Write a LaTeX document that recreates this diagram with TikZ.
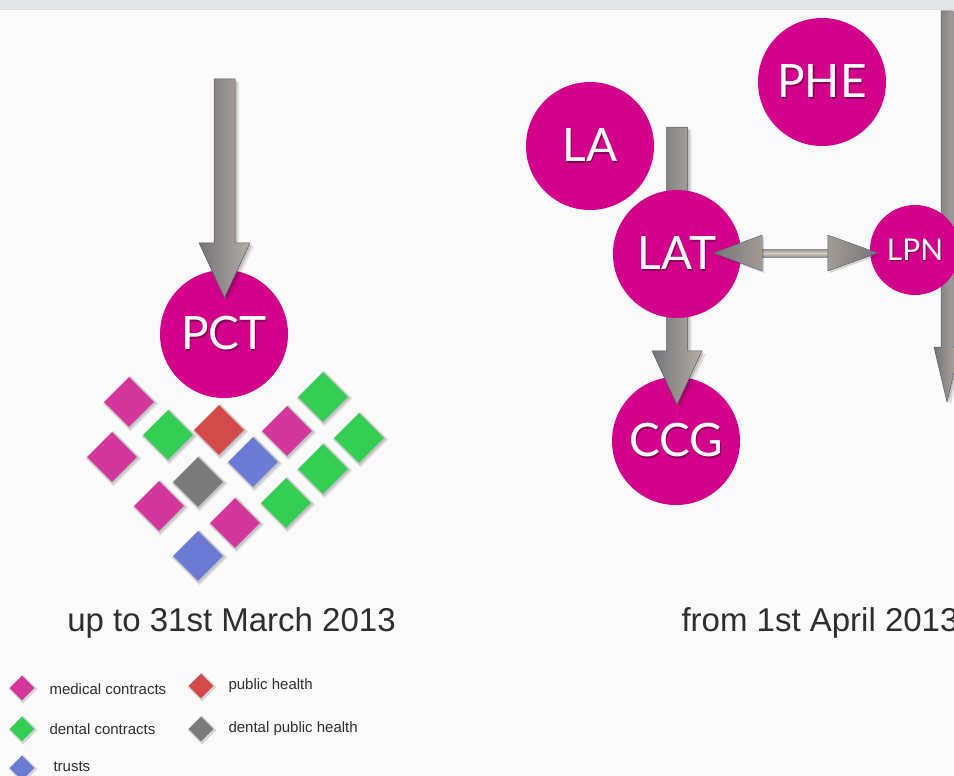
\documentclass[tikz,border=0pt]{standalone}
\usepackage{fontspec}
\setmainfont{Liberation Sans}
\newfontfamily\circfont{Lato}
\usetikzlibrary{shapes.geometric,calc}
\definecolor{bg}{HTML}{FAFAFA}
\definecolor{band}{HTML}{E5E6E7}
\definecolor{mag}{HTML}{D3008C}
\definecolor{magdark}{HTML}{8A005C}
\definecolor{dmag}{HTML}{D4379C}
\definecolor{dgreen}{HTML}{35CE55}
\definecolor{dred}{HTML}{D24A4A}
\definecolor{dblue}{HTML}{6B7BD3}
\definecolor{dgray}{HTML}{7B7B7B}
\definecolor{arrL}{HTML}{747479}
\definecolor{arrR}{HTML}{B4ADA6}
\definecolor{arrEdge}{HTML}{5A5A5F}
\definecolor{shaftmid}{HTML}{D6CEBF}
\definecolor{txt}{HTML}{2E2E2E}
\newcommand\txtsh[1]{\leavevmode\rlap{\kern1.3pt\raisebox{-1.3pt}{\textcolor{magdark}{#1}}}#1}
% style, start, tip, shaft half, head half, head length
\newcommand\fatdown[6]{%
  \path[#1] let \p1=(#2), \p2=(#3) in
   ({\x1-#4pt},{\y1}) -- ({\x1+#4pt},{\y1}) -- ({\x1+#4pt},{\y2+#6pt}) -- ({\x1+#5pt},{\y2+#6pt})
   -- ({\x1},{\y2}) -- ({\x1-#5pt},{\y2+#6pt}) -- ({\x1-#4pt},{\y2+#6pt}) -- cycle;}
\newcommand\fatarrow[6]{%
  \fatdown{#1,fill=black,opacity=0.10,transform canvas={shift={(4pt,-3pt)}}}{#2}{#3}{#4}{#5}{#6}%
  \fatdown{#1,fill=black,opacity=0.14,transform canvas={shift={(2pt,-1.5pt)}}}{#2}{#3}{#4}{#5}{#6}%
  \fatdown{#1,left color=arrL,right color=arrR,draw=arrEdge,line width=0.5pt}{#2}{#3}{#4}{#5}{#6}}
\tikzset{
  org/.style={circle,fill=mag,inner sep=0pt,minimum size=128pt,text=white,
    font=\circfont\fontsize{46}{46}\selectfont},
  dia/.style={diamond,aspect=1,inner sep=0pt,minimum width=50pt,minimum height=50pt},
  diash/.style={dia,fill=black,opacity=0.10,minimum width=56pt,minimum height=56pt},
  diash2/.style={dia,fill=black,opacity=0.12,minimum width=53pt,minimum height=53pt},
  ldia/.style={diamond,aspect=1,inner sep=0pt,minimum width=25pt,minimum height=25pt},
  ldiash/.style={ldia,fill=black,opacity=0.14,minimum width=29pt,minimum height=29pt},
  legtext/.style={anchor=west,text=txt,font=\fontsize{15}{15}\selectfont},
  caption/.style={text=txt,font=\fontsize{33}{33}\selectfont},
  plain/.style={}
}
\begin{document}
\begin{tikzpicture}[x=1pt,y=-1pt]
\useasboundingbox (0,0) rectangle (954,776);
\clip (0,0) rectangle (954,776);
\fill[bg] (0,0) rectangle (954,776);
\fill[band] (0,0) rectangle (954,9);
\draw[black!12,line width=0.6pt] (0,9) -- (954,9);

% right-edge arrow (behind LPN)
\coordinate (rtop) at (947,11);
\coordinate (rtip) at (947,402);
\fatarrow{plain}{rtop}{rtip}{6}{13}{55}

% diamonds
\foreach \n/\x/\y/\c in {1/129/402/dmag,2/168/435/dgreen,3/219/430/dred,4/287/431/dmag,
  5/323/397/dgreen,6/112/457/dmag,7/253/462/dblue,8/359/438/dgreen,9/198/482/dgray,
  10/323/469/dgreen,11/159/506/dmag,12/286/503/dgreen,13/235/523/dmag,14/198/556/dblue}{
  \node[diash] (ds\n) at (\x+1.5,\y+1.5) {};
  \node[diash2] (dt\n) at (\x+1,\y+1) {};
  \node[dia,fill=\c] (d\n) at (\x,\y) {};
}

% PCT
\node[org] (PCT) at (224,334) {\txtsh{PCT}};
\coordinate (pcttop) at (224.5,79);
\coordinate (pcttip) at ($(PCT.north)+(0.5,28)$);
\fatarrow{plain}{pcttop}{pcttip}{10.5}{25.5}{55}

% right side
\node[org] (LA) at (590,146) {\txtsh{LA}};
\node[org] (PHE) at (822,82) {\txtsh{PHE}};
\node[org] (CCG) at (676,441) {\txtsh{CCG}};
\coordinate (latop) at (677,127);
\coordinate (latip) at ($(CCG.north)+(1,28)$);
\fatarrow{plain}{latop}{latip}{10.5}{25}{54}
\node[org] (LAT) at (677,254) {\txtsh{LAT}};
\node[org,minimum size=90pt,font=\circfont\fontsize{30}{30}\selectfont] (LPN) at (915,250) {\txtsh{LPN}};

% double arrow LAT <-> LPN
\coordinate (dl) at ($(LAT.east)+(-28,-1)$);
\coordinate (dr) at ($(LPN.west)+(8,3)$);
\path[top color=arrL!80,bottom color=arrL!80,middle color=shaftmid] let \p1=(dl), \p2=(dr) in
  ({\x1+49pt},{\y1-4pt}) rectangle ({\x2-50pt},{\y1+4pt});
\path[fill=black,opacity=0.15,transform canvas={shift={(2pt,-2pt)}}] let \p1=(dl), \p2=(dr) in
  (\x1,\y1) -- ({\x1+49pt},{\y1+18pt}) -- ({\x1+49pt},{\y1-18pt}) -- cycle
  (\x2,\y2) -- ({\x2-50pt},{\y2+18pt}) -- ({\x2-50pt},{\y2-18pt}) -- cycle;
\path[left color=arrL,right color=arrR!90!black,draw=arrEdge,line width=0.4pt] let \p1=(dl) in
  (\x1,\y1) -- ({\x1+49pt},{\y1+18pt}) -- ({\x1+49pt},{\y1-18pt}) -- cycle;
\path[left color=arrR!90!black,right color=arrL,draw=arrEdge,line width=0.4pt] let \p2=(dr) in
  (\x2,\y2) -- ({\x2-50pt},{\y2+18pt}) -- ({\x2-50pt},{\y2-18pt}) -- cycle;

% captions
\node[caption] (cap1) at (231.5,623) {up to 31st March 2013};
\node[caption,anchor=west] (cap2) at (678,623) {from 1st April 2013};

% legend
\node[ldiash] (ls1) at (23,689) {};
\node[ldia,fill=dmag] (l1) at (22,688) {};
\node[legtext] (t1) at (46,689) {medical contracts};
\node[ldiash] (ls2) at (23,730) {};
\node[ldia,fill=dgreen] (l2) at (22,729) {};
\node[legtext] (t2) at (46,729) {dental contracts};
\node[ldiash] (ls3) at (23,769) {};
\node[ldia,fill=dblue] (l3) at (22,768) {};
\node[legtext] (t3) at (50,767) {trusts};
\node[ldiash] (ls4) at (202,687) {};
\node[ldia,fill=dred] (l4) at (201,686) {};
\node[legtext] (t4) at (225,686) {public health};
\node[ldiash] (ls5) at (202,730) {};
\node[ldia,fill=dgray] (l5) at (201,729) {};
\node[legtext] (t5) at (225,729) {dental public health};
\end{tikzpicture}
\end{document}
